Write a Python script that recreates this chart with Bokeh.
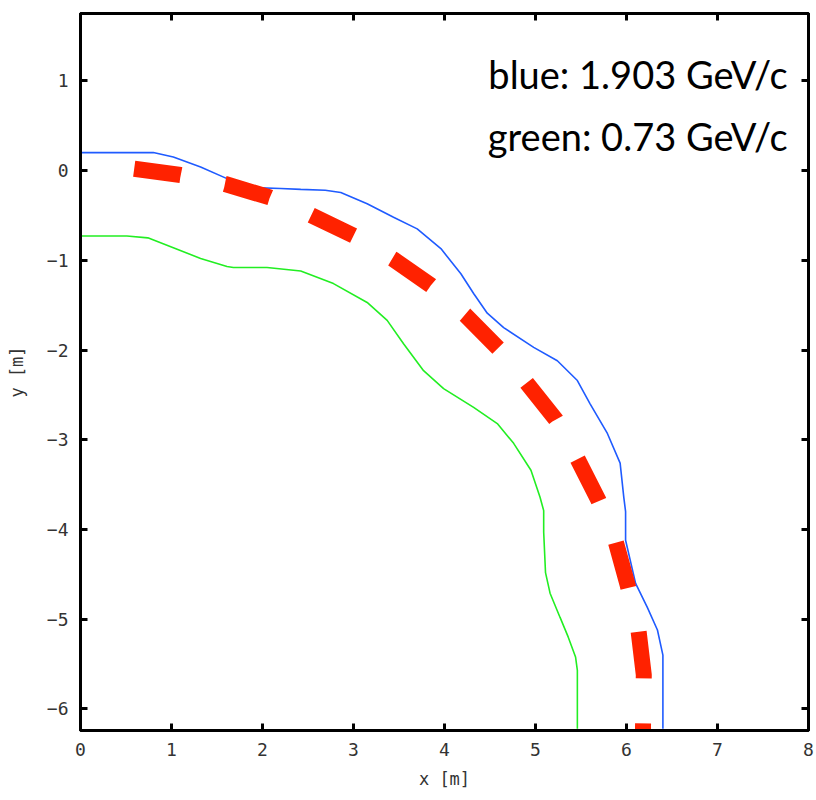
from bokeh.plotting import figure
from bokeh.models import LinearAxis, Label, Range1d, FixedTicker
from bokeh.embed import file_html
from bokeh.resources import INLINE

# ---- data ----
blue_x = [0.0, 0.80, 1.02, 1.32, 1.61, 1.90, 2.20, 2.42, 2.69, 2.86, 3.15, 3.44, 3.70, 3.96,
          4.18, 4.32, 4.47, 4.65, 4.98, 5.24, 5.46, 5.60, 5.79, 5.93, 5.97, 5.99, 5.99,
          6.10, 6.23, 6.34, 6.40, 6.40]
blue_y = [0.20, 0.20, 0.15, 0.04, -0.09, -0.19, -0.20, -0.21, -0.22, -0.245, -0.37, -0.52,
          -0.65, -0.87, -1.15, -1.37, -1.59, -1.75, -1.97, -2.12, -2.34, -2.60, -2.93, -3.26,
          -3.64, -3.80, -4.12, -4.60, -4.87, -5.12, -5.40, -6.22]

green_x = [0.0, 0.51, 0.74, 1.02, 1.32, 1.61, 1.68, 2.05, 2.42, 2.78, 3.15, 3.37, 3.55, 3.77,
           3.99, 4.32, 4.58, 4.76, 4.95, 5.05, 5.09, 5.09, 5.11, 5.16, 5.27, 5.36, 5.44,
           5.46, 5.46]
green_y = [-0.73, -0.73, -0.75, -0.86, -0.98, -1.07, -1.08, -1.08, -1.12, -1.26, -1.47, -1.67,
           -1.93, -2.23, -2.43, -2.64, -2.82, -3.04, -3.34, -3.64, -3.79, -4.03, -4.48, -4.71,
           -4.98, -5.20, -5.42, -5.57, -6.22]

red_x = [0.59, 1.10, 1.59, 2.08, 2.52, 3.01, 3.44, 3.85, 4.23, 4.59, 4.89, 5.22, 5.45, 5.69,
         5.88, 6.01, 6.13, 6.19, 6.18]
red_y = [0.02, -0.05, -0.15, -0.30, -0.49, -0.73, -0.99, -1.28, -1.61, -1.98, -2.35, -2.77,
         -3.19, -3.67, -4.13, -4.61, -5.11, -5.62, -6.30]

x_ticks = [0, 1, 2, 3, 4, 5, 6, 7, 8]
y_ticks = [-6, -5, -4, -3, -2, -1, 0, 1]

label_lines = ["blue: 1.903 GeV/c", "green: 0.73 GeV/c"]

TICK_FONT = "DejaVu Sans Mono"

p = figure(width=816, height=800, x_range=Range1d(0, 8), y_range=Range1d(-6.24, 1.75),
           output_backend="svg", toolbar_location=None,
           x_axis_location=None, y_axis_location=None,
           min_border_left=80, min_border_right=8, min_border_top=13, min_border_bottom=70)
p.grid.visible = False
p.outline_line_color = "black"
p.outline_line_width = 3
p.background_fill_color = "white"
p.border_fill_color = "white"


def make_axis(ticks, label=None, show_labels=True):
    ax = LinearAxis(ticker=FixedTicker(ticks=ticks))
    ax.major_tick_in = 7
    ax.major_tick_out = 0
    ax.minor_tick_in = 0
    ax.minor_tick_out = 0
    ax.major_tick_line_width = 3
    ax.major_tick_line_color = "black"
    ax.axis_line_width = 3
    ax.axis_line_color = "black"
    ax.major_label_text_font = TICK_FONT
    ax.major_label_text_font_size = "18px"
    ax.major_label_text_color = "#333333"
    if not show_labels:
        ax.major_label_text_font_size = "1px"
        ax.major_label_text_alpha = 0
        ax.major_label_standoff = 0
    if label:
        ax.axis_label = label
        ax.axis_label_text_font = TICK_FONT
        ax.axis_label_text_font_size = "17px"
        ax.axis_label_text_font_style = "normal"
        ax.axis_label_text_color = "#333333"
    return ax


bottom = make_axis(x_ticks, "x [m]")
bottom.major_label_standoff = 12
bottom.axis_label_standoff = 10
left = make_axis(y_ticks, "y [m]")
left.major_label_standoff = 12
left.axis_label_standoff = 17
top = make_axis(x_ticks, show_labels=False)
right = make_axis(y_ticks, show_labels=False)

p.add_layout(bottom, "below")
p.add_layout(left, "left")
p.add_layout(top, "above")
p.add_layout(right, "right")

p.line(green_x, green_y, line_color="#22ee22", line_width=1.6)
p.line(blue_x, blue_y, line_color="#1f5bff", line_width=1.6)
p.line(red_x, red_y, line_color="#ff2200", line_width=16, line_dash="47 45", line_cap="butt")

for i, txt in enumerate(label_lines):
    p.add_layout(Label(x=7.77, y=[1.08, 0.39][i], text=txt, text_align="right",
                       text_baseline="alphabetic", text_font="Lato",
                       text_font_size="38px", text_color="black"))

open("out.html", "w").write(file_html(p, INLINE))
